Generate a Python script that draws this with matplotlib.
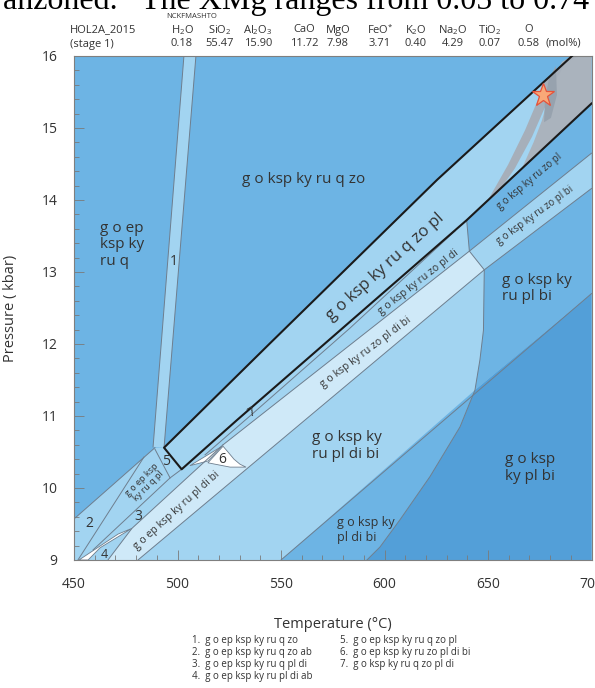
import matplotlib.pyplot as plt
from matplotlib.patches import Polygon
from matplotlib.ticker import MultipleLocator

plt.rcParams['font.family'] = ['Open Sans', 'DejaVu Sans']

# bulk composition (mol%)
oxides = [r'$\mathregular{H_2O}$', r'$\mathregular{SiO_2}$', r'$\mathregular{Al_2O_3}$', 'CaO', 'MgO',
          r'$\mathregular{FeO^{*}}$', r'$\mathregular{K_2O}$', r'$\mathregular{Na_2O}$',
          r'$\mathregular{TiO_2}$', 'O']
moles = ['0.18', '55.47', '15.90', '11.72', '7.98', '3.71', '0.40', '4.29', '0.07', '0.58']
oxide_x = [182, 220, 258, 304, 338, 380, 416, 453, 490, 529]   # header columns (px)

# field polygons, (T degC, P kbar)
light_all = [(450, 9.57), (489.1, 10.56), (493.5, 10.56), (544.7, 12.01), (625.4, 14.28),
             (690.6, 16.0), (700, 16.0), (700, 9.0), (450, 9.0)]
band1 = [(503.1, 16.0), (508.9, 16.0), (493.5, 10.56), (488.2, 10.57)]
zopl_right = [(639.7, 13.72), (700, 15.34), (700, 14.65), (641.0, 13.29)]
rupl_bi = [(648.2, 13.03), (700, 14.16), (700, 12.70), (643.7, 11.36), (646.1, 11.78), (647.8, 12.19)]
dark_field = [(591.5, 9.0), (597.8, 9.18), (607.5, 9.56), (622.0, 10.16), (636.5, 10.85),
              (643.7, 11.36), (700, 12.70), (700, 9.0)]
pldibi = [(550, 9.0), (643.7, 11.36), (636.5, 10.85), (622.0, 10.16), (607.5, 9.56),
          (597.8, 9.18), (591.5, 9.0)]
vlight_band = [(466.4, 9.0), (478.0, 9.44), (522.0, 10.60), (641.0, 13.29), (648.2, 13.03), (480.9, 9.0)]
field6 = [(514.7, 10.35), (522.0, 10.58), (524.4, 10.50), (527.3, 10.40), (530.2, 10.33),
          (533.1, 10.29), (525.4, 10.29)]
sliver_a = [(506.0, 10.31), (521.5, 10.58), (514.7, 10.375)]
field4 = [(452.4, 9.0), (471.3, 9.36), (478.0, 9.44), (462.6, 9.17), (456.8, 9.0)]
grey_big = [(690.6, 16.0), (700, 16.0), (700, 15.34), (666.4, 14.44), (672.0, 14.80),
            (676.0, 15.10), (679.0, 15.40), (682.4, 15.74), (685.8, 15.92)]
grey_left = [(690.6, 16.0), (677.5, 15.65), (674.1, 15.39), (667.9, 14.97), (659.7, 14.49),
             (650.0, 14.0), (654.3, 14.08), (663.0, 14.44), (671.3, 14.88), (678.0, 15.32),
             (682.8, 15.67), (687.7, 15.92), (694.4, 16.0)]
grey_dark = [(679.5, 15.69), (682.8, 15.86), (683.3, 15.46), (680.4, 15.14), (677.1, 15.08), (677.5, 15.39)]

# boundary lines
upper_black = [(690.6, 16.0), (625.4, 14.28), (544.7, 12.01), (493.5, 10.56), (502.0, 10.26),
               (528.6, 10.94), (639.7, 13.72), (700, 15.34)]
thin_lines = [
    [(503.1, 16.0), (488.2, 10.57)],
    [(508.9, 16.0), (493.5, 10.56)],
    [(450, 9.57), (489.1, 10.56)],
    [(522.0, 10.60), (641.0, 13.29), (700, 14.65)],
    [(480.9, 9.0), (648.2, 13.03), (700, 14.16)],
    [(550, 9.0), (700, 12.70)],
    [(639.7, 13.72), (641.0, 13.29), (648.2, 13.03), (647.8, 12.19), (646.1, 11.78), (643.7, 11.36),
     (636.5, 10.85), (622.0, 10.16), (607.5, 9.56), (597.8, 9.18), (591.5, 9.0)],
    [(466.4, 9.0), (478.0, 9.44), (522.0, 10.60)],
    [(483.8, 10.43), (451.9, 9.0)],
    [(459.2, 9.14), (496.4, 10.14), (502.0, 10.26)],
    [(489.1, 10.54), (496.4, 10.14)],
    [(513.3, 10.46), (535.0, 11.0), (583.3, 12.22), (634.1, 13.57)],
]

# sample
star_T, star_P = 676.6, 15.46

# field labels: text, T, P, size, rotation, ha
labels = [
    ('g o ksp ky ru q zo', 561.1, 14.28, 11, 0, 'center'),
    ('g o ep\nksp ky\nru q', 462.6, 13.375, 11, 0, 'left'),
    ('1', 498.0, 13.14, 10, 0, 'center'),
    ('g o ksp ky ru q zo pl', 600.5, 13.07, 12, 42, 'center'),
    ('g o ksp ky ru zo pl di', 616.2, 12.86, 7.5, 38, 'center'),
    ('g o ksp ky ru zo pl di bi', 591.1, 11.89, 7.5, 37, 'center'),
    ('g o ep ksp ky ru pl di bi', 499.8, 9.69, 7.5, 42, 'center'),
    ('g o ep ksp\nky ru q pl', 484.3, 10.07, 6.5, 45, 'center'),
    ('g o ksp ky ru zo pl', 670.3, 14.25, 7, 40, 'center'),
    ('g o ksp ky ru zo pl bi', 672.7, 13.79, 7, 36, 'center'),
    ('g o ksp ky\nru pl bi', 656.6, 12.77, 11, 0, 'left'),
    ('g o ksp ky\nru pl di bi', 564.8, 10.58, 11, 0, 'left'),
    ('g o ksp ky\npl di bi', 576.9, 9.42, 9, 0, 'left'),
    ('g o ksp\nky pl bi', 658.2, 10.28, 11, 0, 'left'),
    ('2', 457.4, 9.5, 10, 0, 'center'),
    ('3', 481.1, 9.60, 10, 0, 'center'),
    ('4', 464.5, 9.07, 9, 0, 'center'),
    ('5', 494.4, 10.37, 10, 0, 'center'),
    ('6', 521.8, 10.39, 10, 0, 'center'),
    ('7', 535.8, 11.05, 9, 30, 'center'),
]

legend_left = ['1.  g o ep ksp ky ru q zo', '2.  g o ep ksp ky ru q zo ab',
               '3.  g o ep ksp ky ru q pl di', '4.  g o ep ksp ky ru pl di ab']
legend_right = ['5.  g o ep ksp ky ru q zo pl', '6.  g o ep ksp ky ru zo pl di bi',
                '7.  g o ksp ky ru q zo pl di']

med = '#6db4e4'
light = '#a2d4f1'
vlight = '#cfe9f8'
dark = '#539fd8'
edge = '#6e7e8e'
txt = '#333333'

fig = plt.figure(figsize=(5.95, 6.88), dpi=100)
ax = fig.add_axes([74 / 595, 1 - 560 / 688, 517.5 / 595, 504 / 688])
ax.set_facecolor(med)

fills = [(light_all, light), (band1, light), (zopl_right, med), (rupl_bi, med),
         (dark_field, dark), (pldibi, med), (vlight_band, vlight), (field6, 'white'),
         (sliver_a, 'white'), (field4, 'white'), (grey_big, '#aab3bd'), (grey_left, '#a6afba'),
         (grey_dark, '#97a2ae')]
for pts, c in fills:
    ax.add_patch(Polygon(pts, closed=True, facecolor=c, edgecolor='none', zorder=1))

for pts in thin_lines:
    t, p = zip(*pts)
    ax.plot(t, p, color=edge, lw=0.7, zorder=2)
for pts in [field6, field4, sliver_a]:
    ax.add_patch(Polygon(pts, closed=True, facecolor='none', edgecolor=edge, lw=0.6, zorder=2))

t, p = zip(*upper_black)
ax.plot(t, p, color='#1a1a1a', lw=1.5, zorder=3)

ax.plot(star_T, star_P, marker='*', markersize=17, markerfacecolor='#f8a878',
        markeredgecolor='#e5533b', markeredgewidth=0.9, zorder=5)

for s, T, P, fs, rot, ha in labels:
    ax.text(T, P, s, fontsize=fs, rotation=rot, ha=ha, va='center', color=txt,
            rotation_mode='anchor', linespacing=1.15, zorder=4)

ax.set_xlim(450, 700)
ax.set_ylim(9, 16)
ax.xaxis.set_major_locator(MultipleLocator(50))
ax.xaxis.set_minor_locator(MultipleLocator(10))
ax.yaxis.set_major_locator(MultipleLocator(1))
ax.yaxis.set_minor_locator(MultipleLocator(0.2))
ax.tick_params(which='both', direction='in', color='#7a7a7a', width=0.6, labelsize=10, labelcolor=txt)
ax.tick_params(which='major', length=7)
ax.tick_params(which='minor', length=3.5)
ax.tick_params(axis='x', pad=12)
ax.tick_params(axis='y', pad=12)
for sp in ax.spines.values():
    sp.set_color('#7f7f7f')
    sp.set_linewidth(0.8)

ax.set_xlabel('Temperature (°C)', fontsize=10.5, color=txt)
ax.xaxis.set_label_coords(0.5, -(617 - 560) / 504)
ax.set_ylabel('Pressure ( kbar)', fontsize=10.5, color=txt)
ax.yaxis.set_label_coords(-(74 - 18) / 517.5, 0.5)

# header
def fx(x):
    return x / 595

def fy(y):
    return 1 - y / 688

fig.text(fx(3), fy(9), 'anzoned.   The XMg ranges from 0.05 to 0.74', fontsize=23,
         family='Liberation Serif', va='baseline', ha='left', color='black')
fig.text(fx(166), fy(16), 'NCKFMASHTO', fontsize=5.5, va='center', color=txt)
fig.text(fx(70), fy(30), 'HOL2A_2015', fontsize=8, va='center', color=txt)
fig.text(fx(70), fy(44), '(stage 1)', fontsize=8, va='center', color=txt)
for name, val, x in zip(oxides, moles, oxide_x):
    fig.text(fx(x), fy(30), name, fontsize=8, ha='center', va='center', color=txt)
    fig.text(fx(x), fy(43), val, fontsize=8, ha='center', va='center', color=txt)
fig.text(fx(546), fy(43), '(mol%)', fontsize=8, ha='left', va='center', color=txt)

# legend of numbered fields
for i, s in enumerate(legend_left):
    fig.text(fx(192), fy(641 + 11.8 * i), s, fontsize=7, va='center', color=txt)
for i, s in enumerate(legend_right):
    fig.text(fx(340), fy(641 + 11.8 * i), s, fontsize=7, va='center', color=txt)

fig.savefig('out.png', dpi=100)
